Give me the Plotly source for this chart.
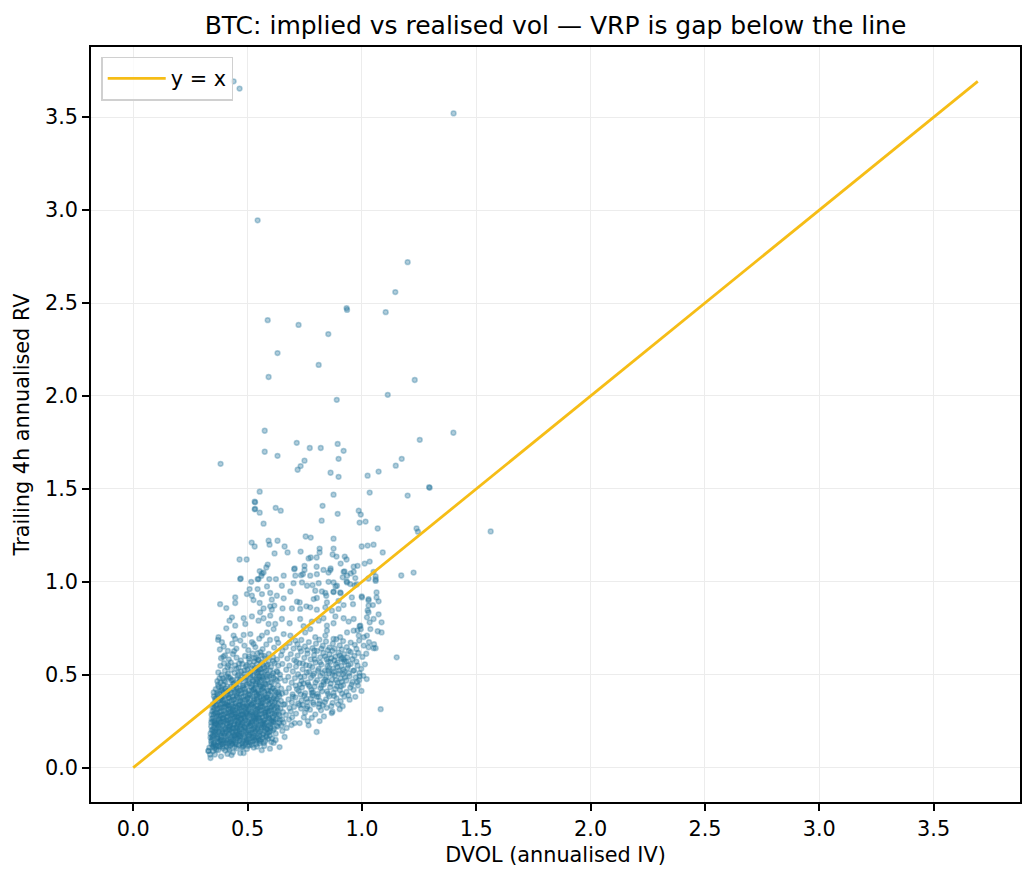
import plotly.graph_objects as go

# ---------------- data (DVOL implied vol, trailing 4h realised vol) ----------------
main_cluster = [
    (0.338,0.052),(0.357,0.071),(0.384,0.061),(0.349,0.088),(0.412,0.074),(0.436,0.083),(0.372,0.094),(0.468,0.079),(0.329,0.090),(0.402,0.093),
    (0.333,0.108),(0.351,0.117),(0.364,0.098),(0.381,0.124),(0.393,0.103),(0.407,0.115),(0.421,0.097),(0.434,0.126),(0.452,0.104),(0.463,0.121),(0.479,0.112),(0.497,0.101),(0.518,0.122),(0.541,0.113),(0.372,0.118),(0.414,0.129),(0.342,0.127),(0.562,0.094),(0.356,0.104),(0.443,0.111),(0.489,0.128),(0.391,0.113),
    (0.341,0.142),(0.353,0.133),(0.366,0.155),(0.374,0.137),(0.386,0.163),(0.395,0.146),(0.404,0.134),(0.415,0.152),(0.426,0.141),(0.433,0.166),(0.447,0.136),(0.455,0.158),(0.468,0.145),(0.476,0.132),(0.487,0.161),(0.494,0.147),(0.506,0.153),(0.513,0.135),(0.524,0.164),(0.536,0.143),(0.547,0.157),(0.553,0.131),(0.566,0.162),(0.578,0.144),(0.589,0.155),(0.604,0.138),(0.359,0.121),(0.441,0.168),(0.348,0.159),(0.381,0.147),(0.462,0.169),(0.529,0.149),(0.421,0.137),(0.501,0.139),
    (0.338,0.183),(0.349,0.172),(0.357,0.196),(0.368,0.178),(0.377,0.205),(0.389,0.186),(0.396,0.171),(0.408,0.193),(0.417,0.179),(0.425,0.208),(0.436,0.188),(0.444,0.174),(0.456,0.199),(0.463,0.183),(0.474,0.207),(0.483,0.176),(0.495,0.192),(0.503,0.181),(0.516,0.203),(0.527,0.173),(0.534,0.195),(0.545,0.184),(0.558,0.206),(0.567,0.177),(0.576,0.197),(0.588,0.186),(0.597,0.172),(0.611,0.201),(0.623,0.183),(0.363,0.188),(0.401,0.207),(0.431,0.195),(0.489,0.203),(0.521,0.188),(0.553,0.171),(0.584,0.209),(0.347,0.204),(0.468,0.171),
    (0.341,0.223),(0.352,0.214),(0.361,0.238),(0.372,0.219),(0.383,0.245),(0.391,0.227),(0.403,0.212),(0.411,0.236),(0.422,0.221),(0.429,0.248),(0.441,0.229),(0.449,0.215),(0.458,0.242),(0.467,0.224),(0.478,0.247),(0.486,0.217),(0.498,0.234),(0.507,0.222),(0.519,0.246),(0.528,0.213),(0.539,0.237),(0.548,0.226),(0.559,0.249),(0.571,0.218),(0.579,0.239),(0.592,0.227),(0.601,0.214),(0.614,0.243),(0.627,0.226),(0.638,0.241),(0.356,0.243),(0.395,0.249),(0.437,0.211),(0.472,0.236),(0.513,0.229),(0.544,0.211),(0.566,0.233),(0.603,0.236),
    (0.343,0.262),(0.354,0.253),(0.364,0.277),(0.375,0.259),(0.386,0.284),(0.394,0.266),(0.406,0.253),(0.414,0.275),(0.424,0.261),(0.433,0.287),(0.444,0.268),(0.452,0.255),(0.461,0.281),(0.471,0.263),(0.481,0.288),(0.489,0.257),(0.501,0.273),(0.511,0.261),(0.522,0.285),(0.531,0.252),(0.542,0.276),(0.551,0.265),(0.563,0.289),(0.573,0.256),(0.582,0.278),(0.594,0.267),(0.605,0.254),(0.617,0.283),(0.629,0.265),(0.641,0.279),(0.652,0.259),(0.369,0.289),(0.419,0.289),(0.457,0.271),(0.497,0.289),(0.537,0.264),(0.576,0.286),(0.611,0.271),
    (0.346,0.302),(0.357,0.293),(0.367,0.317),(0.378,0.299),(0.388,0.324),(0.397,0.306),(0.408,0.293),(0.417,0.315),(0.427,0.301),(0.436,0.327),(0.446,0.308),(0.455,0.295),(0.465,0.321),(0.474,0.303),(0.484,0.328),(0.493,0.297),(0.504,0.313),(0.514,0.301),(0.525,0.325),(0.534,0.292),(0.545,0.316),(0.554,0.305),(0.566,0.329),(0.575,0.296),(0.585,0.318),(0.597,0.307),(0.608,0.294),(0.619,0.323),(0.632,0.305),(0.644,0.319),(0.655,0.299),(0.403,0.328),(0.448,0.331),(0.501,0.329),(0.559,0.311),(0.589,0.301),(0.627,0.331),
    (0.349,0.342),(0.361,0.333),(0.371,0.357),(0.381,0.339),(0.391,0.364),(0.401,0.346),(0.411,0.333),(0.421,0.355),(0.431,0.341),(0.439,0.367),(0.449,0.348),(0.459,0.335),(0.469,0.361),(0.478,0.343),(0.488,0.368),(0.497,0.337),(0.507,0.353),(0.517,0.341),(0.528,0.365),(0.537,0.332),(0.548,0.356),(0.557,0.345),(0.569,0.369),(0.578,0.336),(0.588,0.358),(0.599,0.347),(0.611,0.334),(0.622,0.363),(0.635,0.345),(0.646,0.359),(0.658,0.339),(0.527,0.347),(0.563,0.361),(0.596,0.368),
    (0.353,0.384),(0.364,0.373),(0.376,0.397),(0.386,0.379),(0.395,0.404),(0.405,0.386),(0.416,0.373),(0.425,0.395),(0.435,0.381),(0.444,0.407),(0.453,0.388),(0.463,0.375),(0.473,0.401),(0.482,0.383),(0.492,0.408),(0.501,0.377),(0.511,0.393),(0.521,0.381),(0.531,0.405),(0.541,0.372),(0.551,0.396),(0.561,0.385),(0.572,0.409),(0.582,0.376),(0.592,0.398),(0.603,0.387),(0.614,0.374),(0.626,0.403),(0.639,0.385),(0.651,0.399),(0.541,0.391),(0.571,0.379),
    (0.361,0.422),(0.373,0.434),(0.384,0.417),(0.394,0.445),(0.404,0.426),(0.415,0.413),(0.428,0.438),(0.439,0.421),(0.449,0.446),(0.459,0.428),(0.468,0.415),(0.478,0.441),(0.487,0.423),(0.497,0.448),(0.506,0.417),(0.516,0.433),(0.526,0.421),(0.536,0.445),(0.546,0.412),(0.556,0.436),(0.566,0.425),(0.577,0.449),(0.587,0.416),(0.598,0.438),(0.609,0.427),(0.621,0.414),(0.633,0.443),(0.647,0.425),(0.551,0.447),(0.521,0.446),
    (0.368,0.465),(0.381,0.457),(0.392,0.481),(0.403,0.462),(0.417,0.487),(0.429,0.469),(0.442,0.455),(0.455,0.478),(0.466,0.463),(0.479,0.489),(0.491,0.471),(0.503,0.458),(0.514,0.484),(0.524,0.466),(0.535,0.452),(0.545,0.476),(0.555,0.463),(0.566,0.487),(0.576,0.455),(0.588,0.473),(0.601,0.461),(0.614,0.485),(0.628,0.468),(0.643,0.481),(0.541,0.489),(0.562,0.471),
    (0.372,0.512),(0.386,0.498),(0.401,0.522),(0.414,0.505),(0.428,0.527),(0.443,0.509),(0.457,0.495),(0.472,0.518),(0.486,0.503),(0.499,0.528),(0.512,0.511),(0.523,0.496),(0.534,0.521),(0.544,0.506),(0.553,0.529),(0.563,0.493),(0.574,0.515),(0.586,0.502),(0.599,0.524),(0.612,0.508),(0.627,0.519),(0.642,0.501),(0.548,0.517),
    (0.381,0.548),(0.397,0.562),(0.412,0.541),(0.427,0.566),(0.445,0.551),(0.461,0.537),(0.477,0.558),(0.493,0.544),(0.508,0.567),(0.521,0.549),(0.532,0.535),(0.541,0.558),(0.551,0.543),(0.562,0.566),(0.574,0.538),(0.588,0.555),(0.603,0.542),(0.618,0.563),(0.634,0.549),(0.652,0.558),
    (0.384,0.589),(0.401,0.604),(0.418,0.583),(0.436,0.611),(0.452,0.592),(0.471,0.577),(0.489,0.601),(0.506,0.586),(0.522,0.614),(0.537,0.591),(0.549,0.579),(0.561,0.606),(0.577,0.588),(0.593,0.612),(0.611,0.596),(0.629,0.582),(0.647,0.605),
    (0.379,0.636),(0.396,0.652),(0.414,0.628),(0.433,0.667),(0.451,0.641),(0.468,0.684),(0.486,0.657),(0.503,0.632),(0.519,0.676),(0.534,0.649),(0.551,0.694),(0.566,0.638),(0.582,0.663),(0.598,0.687),(0.616,0.646),(0.634,0.672),(0.652,0.629),(0.371,0.688),
]

dense_core = [
    (0.352,0.127),(0.368,0.141),(0.379,0.113),(0.396,0.132),(0.409,0.146),(0.423,0.118),(0.438,0.139),(0.451,0.125),(0.466,0.148),(0.481,0.119),(0.493,0.136),(0.509,0.124),(0.523,0.142),(0.538,0.128),(0.551,0.146),(0.571,0.133),(0.384,0.149),(0.431,0.129),
    (0.345,0.168),(0.358,0.181),(0.371,0.157),(0.383,0.174),(0.392,0.189),(0.406,0.162),(0.419,0.185),(0.428,0.153),(0.439,0.177),(0.452,0.189),(0.461,0.159),(0.473,0.184),(0.485,0.168),(0.498,0.151),(0.509,0.176),(0.519,0.161),(0.531,0.187),(0.543,0.166),(0.556,0.152),(0.569,0.182),(0.581,0.165),(0.594,0.191),(0.607,0.158),(0.374,0.192),(0.447,0.163),
    (0.343,0.201),(0.355,0.228),(0.366,0.209),(0.379,0.232),(0.389,0.197),(0.398,0.219),(0.413,0.205),(0.424,0.229),(0.433,0.213),(0.447,0.198),(0.453,0.226),(0.465,0.208),(0.477,0.231),(0.491,0.213),(0.504,0.199),(0.512,0.227),(0.525,0.206),(0.536,0.224),(0.549,0.197),(0.561,0.218),(0.573,0.229),(0.586,0.204),(0.598,0.222),(0.616,0.209),(0.632,0.221),(0.419,0.218),(0.483,0.195),
    (0.347,0.251),(0.359,0.236),(0.371,0.262),(0.381,0.244),(0.392,0.268),(0.405,0.239),(0.416,0.257),(0.427,0.241),(0.436,0.265),(0.446,0.252),(0.457,0.233),(0.469,0.259),(0.479,0.241),(0.491,0.266),(0.502,0.249),(0.514,0.238),(0.526,0.263),(0.537,0.246),(0.549,0.269),(0.559,0.234),(0.571,0.256),(0.583,0.243),(0.596,0.264),(0.608,0.247),(0.621,0.259),(0.463,0.271),(0.521,0.253),
    (0.351,0.285),(0.362,0.298),(0.374,0.276),(0.384,0.304),(0.396,0.286),(0.409,0.272),(0.418,0.301),(0.429,0.281),(0.441,0.297),(0.452,0.276),(0.463,0.305),(0.476,0.287),(0.486,0.274),(0.497,0.302),(0.508,0.283),(0.519,0.296),(0.531,0.278),(0.542,0.303),(0.553,0.286),(0.565,0.271),(0.578,0.298),(0.591,0.282),(0.603,0.309),(0.617,0.291),(0.636,0.288),(0.437,0.309),
    (0.354,0.323),(0.366,0.341),(0.377,0.318),(0.389,0.347),(0.399,0.326),(0.412,0.352),(0.423,0.331),(0.434,0.314),(0.445,0.343),(0.456,0.322),(0.467,0.355),(0.478,0.329),(0.491,0.317),(0.502,0.346),(0.512,0.325),(0.523,0.351),(0.533,0.318),(0.544,0.337),(0.556,0.324),(0.567,0.349),(0.579,0.319),(0.593,0.341),(0.606,0.327),(0.619,0.352),(0.631,0.321),
    (0.358,0.371),(0.369,0.392),(0.382,0.364),(0.393,0.386),(0.407,0.411),(0.418,0.378),(0.429,0.403),(0.442,0.368),(0.451,0.397),(0.464,0.415),(0.475,0.379),(0.487,0.402),(0.496,0.365),(0.508,0.389),(0.519,0.414),(0.529,0.373),(0.539,0.401),(0.552,0.381),(0.563,0.419),(0.576,0.393),(0.589,0.366),(0.601,0.412),(0.617,0.386),(0.633,0.407),
    (0.371,0.447),(0.386,0.429),(0.398,0.468),(0.411,0.437),(0.424,0.482),(0.437,0.451),(0.451,0.432),(0.468,0.474),(0.483,0.441),(0.496,0.487),(0.509,0.452),(0.521,0.473),(0.532,0.428),(0.543,0.462),(0.551,0.491),(0.558,0.438),(0.569,0.481),(0.581,0.447),(0.594,0.493),(0.606,0.456),(0.622,0.476),
    (0.517,0.536),(0.529,0.571),(0.539,0.512),(0.546,0.582),(0.558,0.531),(0.567,0.554),(0.581,0.523),(0.592,0.574),(0.506,0.598),(0.544,0.616),(0.573,0.602),(0.486,0.523),(0.463,0.561),
]

core_extra = [
    (0.362,0.112),(0.389,0.128),(0.417,0.106),(0.446,0.131),(0.474,0.109),(0.503,0.117),(0.527,0.108),
    (0.344,0.151),(0.369,0.166),(0.391,0.141),(0.412,0.171),(0.437,0.152),(0.459,0.177),(0.481,0.143),(0.506,0.168),(0.532,0.159),(0.557,0.141),(0.583,0.171),
    (0.351,0.192),(0.376,0.214),(0.399,0.184),(0.421,0.203),(0.442,0.237),(0.464,0.196),(0.487,0.221),(0.509,0.189),(0.533,0.217),(0.554,0.193),(0.577,0.211),(0.599,0.196),(0.366,0.231),(0.455,0.214),
    (0.349,0.268),(0.373,0.248),(0.396,0.259),(0.418,0.243),(0.439,0.276),(0.461,0.249),(0.484,0.268),(0.505,0.241),(0.527,0.272),(0.548,0.254),(0.569,0.244),(0.591,0.271),(0.613,0.249),(0.381,0.279),(0.471,0.284),(0.539,0.286),
    (0.353,0.311),(0.379,0.326),(0.403,0.297),(0.425,0.318),(0.447,0.289),(0.469,0.314),(0.492,0.327),(0.511,0.292),(0.536,0.309),(0.558,0.332),(0.581,0.307),(0.602,0.322),(0.624,0.297),(0.415,0.337),(0.487,0.301),
    (0.359,0.356),(0.384,0.372),(0.407,0.341),(0.431,0.363),(0.454,0.379),(0.476,0.351),(0.499,0.371),(0.518,0.339),(0.541,0.366),(0.562,0.352),(0.584,0.381),(0.607,0.356),(0.628,0.371),(0.394,0.358),(0.467,0.338),
    (0.366,0.402),(0.389,0.418),(0.413,0.392),(0.436,0.426),(0.458,0.404),(0.481,0.431),(0.503,0.396),(0.526,0.419),(0.548,0.403),(0.569,0.432),(0.591,0.412),(0.613,0.428),(0.637,0.396),
    (0.377,0.481),(0.409,0.493),(0.434,0.472),(0.462,0.505),(0.489,0.482),(0.513,0.502),(0.538,0.476),(0.561,0.511),(0.584,0.488),(0.607,0.497),(0.631,0.514),(0.452,0.533),(0.497,0.553),(0.529,0.589),(0.556,0.622),(0.583,0.547),(0.611,0.573),(0.417,0.552),(0.394,0.597),(0.441,0.627),
    (0.336,0.071),(0.347,0.113),(0.338,0.162),(0.341,0.243),(0.342,0.286),(0.346,0.327),(0.352,0.405),
]

right_lobe = [
    (0.668,0.284),(0.689,0.302),(0.712,0.291),(0.734,0.318),(0.751,0.296),(0.773,0.312),(0.796,0.287),(0.821,0.309),(0.846,0.322),(0.871,0.301),(0.903,0.315),(0.703,0.327),(0.762,0.329),(0.812,0.326),
    (0.663,0.342),(0.679,0.367),(0.694,0.351),(0.709,0.378),(0.721,0.346),(0.736,0.362),(0.748,0.387),(0.761,0.353),(0.777,0.372),(0.789,0.341),(0.802,0.381),(0.816,0.359),(0.829,0.337),(0.843,0.368),(0.858,0.385),(0.872,0.349),(0.889,0.374),(0.907,0.358),(0.923,0.383),(0.946,0.366),(0.971,0.381),(0.741,0.338),(0.784,0.389),
    (0.667,0.405),(0.681,0.428),(0.697,0.394),(0.711,0.441),(0.724,0.413),(0.738,0.432),(0.752,0.401),(0.766,0.446),(0.779,0.419),(0.793,0.436),(0.806,0.397),(0.819,0.427),(0.833,0.448),(0.847,0.411),(0.861,0.433),(0.876,0.402),(0.891,0.439),(0.904,0.417),(0.918,0.444),(0.932,0.408),(0.949,0.431),(0.964,0.419),(0.983,0.442),(0.998,0.413),(0.729,0.447),(0.786,0.405),(0.883,0.424),
    (0.664,0.468),(0.678,0.489),(0.693,0.457),(0.707,0.482),(0.721,0.503),(0.736,0.466),(0.749,0.491),(0.763,0.459),(0.777,0.484),(0.791,0.507),(0.804,0.471),(0.818,0.494),(0.831,0.462),(0.844,0.487),(0.857,0.508),(0.869,0.473),(0.882,0.496),(0.894,0.458),(0.907,0.481),(0.919,0.503),(0.932,0.469),(0.946,0.492),(0.959,0.461),(0.973,0.486),(0.988,0.471),(1.006,0.494),(1.021,0.477),(0.848,0.466),(0.912,0.462),(0.871,0.503),
    (0.669,0.527),(0.683,0.549),(0.698,0.518),(0.712,0.544),(0.727,0.563),(0.741,0.529),(0.756,0.552),(0.769,0.516),(0.783,0.541),(0.797,0.566),(0.811,0.532),(0.823,0.555),(0.837,0.521),(0.849,0.546),(0.862,0.568),(0.874,0.533),(0.887,0.557),(0.899,0.522),(0.911,0.547),(0.924,0.569),(0.937,0.536),(0.951,0.558),(0.966,0.524),(0.981,0.549),(0.997,0.532),(1.013,0.556),(0.856,0.538),(0.893,0.541),(0.918,0.528),(0.941,0.551),
    (0.674,0.587),(0.689,0.611),(0.704,0.579),(0.719,0.603),(0.734,0.626),(0.748,0.591),(0.762,0.614),(0.776,0.582),(0.791,0.606),(0.804,0.628),(0.818,0.594),(0.831,0.617),(0.845,0.584),(0.858,0.609),(0.871,0.629),(0.884,0.597),(0.897,0.619),(0.909,0.586),(0.922,0.611),(0.936,0.593),(0.951,0.622),(0.967,0.601),(0.984,0.617),(1.002,0.596),(1.019,0.613),(0.866,0.589),(0.903,0.604),(0.921,0.581),
    (0.667,0.648),(0.684,0.671),(0.701,0.641),(0.718,0.664),(0.735,0.687),(0.751,0.652),(0.768,0.676),(0.784,0.643),(0.799,0.667),(0.814,0.689),(0.829,0.656),(0.843,0.679),(0.858,0.646),(0.873,0.668),(0.888,0.691),(0.903,0.658),(0.918,0.681),(0.934,0.649),(0.951,0.673),(0.969,0.661),(0.988,0.684),(1.008,0.657),(1.031,0.676),(1.053,0.664),
]

lobe_extra = [
    (0.683,0.321),(0.726,0.337),(0.758,0.318),(0.787,0.351),(0.813,0.343),(0.838,0.352),(0.866,0.331),(0.896,0.341),
    (0.698,0.382),(0.732,0.394),(0.757,0.371),(0.781,0.402),(0.809,0.383),(0.826,0.411),(0.852,0.397),(0.878,0.386),(0.913,0.398),(0.941,0.389),
    (0.716,0.422),(0.745,0.453),(0.771,0.437),(0.797,0.458),(0.823,0.441),(0.839,0.475),(0.864,0.452),(0.887,0.471),(0.908,0.438),(0.926,0.486),(0.955,0.447),(0.979,0.461),
    (0.731,0.489),(0.759,0.512),(0.786,0.497),(0.808,0.521),(0.828,0.508),(0.852,0.521),(0.876,0.517),(0.898,0.506),(0.923,0.516),(0.943,0.508),(0.962,0.521),(0.989,0.509),
    (0.713,0.571),(0.742,0.561),(0.771,0.549),(0.794,0.583),(0.817,0.567),(0.839,0.599),(0.852,0.571),(0.879,0.578),(0.894,0.566),(0.913,0.592),(0.931,0.572),(0.958,0.584),(0.976,0.571),
    (0.728,0.642),(0.761,0.633),(0.792,0.631),(0.823,0.641),(0.851,0.633),(0.881,0.641),(0.912,0.637),(0.943,0.628),(0.976,0.639),
]

low_scatter = [
    (0.662,0.165),(0.640,0.111),(0.614,0.133),(0.483,0.079),(0.430,0.068),(0.329,0.090),(0.706,0.240),(0.728,0.240),(0.763,0.251),(0.767,0.228),
    (0.802,0.192),(0.815,0.251),(0.868,0.294),(0.916,0.331),(0.652,0.198),(0.671,0.214),(0.648,0.227),(0.681,0.259),(0.695,0.271),(0.641,0.256),
    (0.598,0.102),(0.573,0.117),(0.623,0.149),(0.658,0.242),(0.746,0.271),(0.781,0.268),(0.834,0.276),(0.692,0.229),
]

mid_scatter = [
    (0.563,1.045),(0.553,1.058),(0.658,1.033),(0.704,1.068),(0.964,1.054),(0.920,1.054),(0.935,1.033),(0.971,1.020),(0.468,1.015),(0.516,1.000),
    (0.548,1.015),(0.595,1.015),(0.624,1.015),(0.709,1.033),(0.742,1.041),(0.774,1.033),(0.803,1.041),(0.854,1.050),(0.701,0.993),(0.738,0.997),
    (0.760,0.979),(0.784,0.982),(0.811,0.993),(0.825,0.948),(0.854,1.000),(0.891,0.979),(0.935,0.997),(0.949,0.988),(1.029,1.018),(1.051,1.054),
    (0.509,0.961),(0.544,0.961),(0.585,0.975),(0.650,0.979),(0.687,0.948),(0.796,0.952),(0.840,0.940),(0.876,0.947),(0.905,0.943),(0.519,0.925),
    (0.526,0.902),(0.563,0.934),(0.599,0.940),(0.606,0.904),(0.617,0.872),(0.628,0.925),(0.658,0.911),(0.716,0.893),(0.728,0.889),(0.757,0.868),
    (0.789,0.907),(0.803,0.913),(0.844,0.925),(0.847,0.889),(0.898,0.898),(0.956,0.916),(1.000,0.916),(1.029,0.907),(0.380,0.880),(0.407,0.859),
    (0.446,0.916),(0.446,0.886),(0.497,0.934),(0.553,0.886),(0.570,0.857),(0.555,0.836),(0.599,0.868),(0.606,0.850),(0.653,0.857),(0.694,0.857),
    (0.730,0.854),(0.774,0.863),(0.803,0.850),(0.840,0.863),(0.869,0.845),(0.898,0.854),(0.920,0.875),(0.961,0.880),(1.029,0.872),(1.048,0.875),
    (0.432,0.809),(0.421,0.791),(0.407,0.750),(0.446,0.764),(0.483,0.804),(0.490,0.773),(0.519,0.814),(0.548,0.791),(0.570,0.804),(0.599,0.818),
    (0.592,0.773),(0.621,0.773),(0.650,0.800),(0.684,0.777),(0.730,0.800),(0.745,0.761),(0.781,0.786),(0.811,0.791),(0.832,0.804),(0.847,0.764),
    (0.876,0.777),(0.884,0.814),(0.920,0.804),(0.942,0.786),(0.964,0.800),(0.993,0.764),(1.022,0.809),(1.051,0.800),(0.373,0.702),(0.388,0.675),
    (0.439,0.711),(0.446,0.693),(0.483,0.714),(0.512,0.719),(0.526,0.666),(0.563,0.711),(0.585,0.728),(0.614,0.746),(0.628,0.693),(0.658,0.719),
    (0.687,0.711),(0.709,0.684),(0.752,0.728),(0.774,0.746),(0.796,0.702),(0.840,0.711),(0.847,0.737),(0.876,0.693),(0.905,0.702),(0.935,0.728),
    (0.964,0.737),(0.986,0.711),(1.022,0.711),(1.037,0.746),
    (0.924,1.056),(0.951,1.045),(0.916,1.024),(0.933,1.002),(1.060,1.029),(1.060,1.013),(1.060,1.005),(1.172,1.034),(1.226,1.050),(0.876,0.997),
    (0.885,0.975),(0.968,0.981),(0.977,0.986),(0.876,0.945),(0.907,0.939),(0.999,0.922),(1.064,0.943),(1.064,0.916),(1.073,0.895),(1.029,0.900),
    (1.025,0.846),(1.029,0.836),(1.073,0.825),(1.034,0.782),(1.086,0.782),(1.069,0.734),(1.086,0.728),(0.990,0.761),(0.995,0.745),(0.981,0.739),
    (1.008,0.702),(1.029,0.648),(1.051,0.643),(1.060,0.643),(1.152,0.594),(0.990,0.492),(1.082,0.315),
    (0.470,1.018),(0.544,1.014),(0.560,1.032),(0.570,1.050),(0.582,1.077),(0.734,1.036),(0.749,1.064),(0.832,1.064),(0.862,1.063),
]

high_outliers = [
    (0.439,3.693),(0.465,3.654),(1.401,3.520),(0.544,2.945),(1.200,2.720),(1.146,2.559),(0.933,2.473),(0.935,2.463),(1.104,2.451),(0.588,2.408),
    (0.723,2.382),(0.853,2.333),(0.631,2.231),(0.811,2.167),(0.592,2.102),(1.231,2.086),(1.113,2.006),(0.890,1.979),(0.575,1.813),(1.400,1.802),
    (1.253,1.764),(0.715,1.748),(0.772,1.720),(0.820,1.720),(0.894,1.742),(0.920,1.705),(0.575,1.700),(0.631,1.678),(0.898,1.662),(0.749,1.652),
    (0.732,1.623),(0.719,1.603),(0.382,1.635),(1.174,1.662),(1.148,1.625),(0.863,1.587),(0.898,1.565),(1.025,1.571),(1.073,1.593),(1.294,1.510),
    (1.296,1.506),(1.200,1.464),(1.034,1.480),(0.876,1.469),(0.553,1.485),(0.531,1.431),(0.533,1.428),(0.531,1.390),(0.533,1.393),(0.553,1.372),
    (0.570,1.313),(0.623,1.398),(0.645,1.383),(0.828,1.409),(0.894,1.366),(0.824,1.329),(0.986,1.383),(0.995,1.362),(0.990,1.319),(1.016,1.324),
    (1.069,1.287),(1.239,1.287),(1.245,1.270),(1.563,1.271),(0.518,1.211),(0.531,1.190),(0.592,1.221),(0.596,1.200),(0.631,1.221),(0.662,1.190),
    (0.675,1.158),(0.618,1.153),(0.754,1.244),(0.776,1.238),(0.732,1.163),(0.815,1.179),(0.815,1.158),(0.876,1.232),(0.876,1.179),(0.872,1.147),
    (0.889,1.136),(0.767,1.126),(0.776,1.131),(0.802,1.131),(0.925,1.136),(0.933,1.120),(0.999,1.190),(1.025,1.195),(1.051,1.200),(1.091,1.158),
    (0.465,1.120),(0.496,1.120),(0.588,1.093),(1.034,1.109),(1.012,1.098),(0.981,1.086),(0.964,1.081),(0.907,1.098),(0.749,1.086),(0.706,1.072),
    (0.802,1.081),(0.863,1.072),
]

tick_values = [0.0, 0.5, 1.0, 1.5, 2.0, 2.5, 3.0, 3.5]
tick_labels = ["0.0", "0.5", "1.0", "1.5", "2.0", "2.5", "3.0", "3.5"]

title_text = "BTC: implied vs realised vol \u2014 VRP is gap below the line"
x_label = "DVOL (annualised IV)"
y_label = "Trailing 4h annualised RV"
line_name = "y = x"

# ---------------- figure ----------------
all_pts = (main_cluster + dense_core + core_extra + right_lobe + lobe_extra
           + low_scatter + mid_scatter + high_outliers)
iv = [p[0] for p in all_pts]
rv = [p[1] for p in all_pts]

lim = max(max(iv), max(rv))
pad = 0.05 * lim
axis_range = [-pad, lim + pad]

pt_rgba = "rgba(35,116,156,0.36)"
FONT = "DejaVu Sans"

fig = go.Figure()
fig.add_trace(go.Scatter(
    x=iv, y=rv, mode="markers", showlegend=False, hoverinfo="skip",
    marker=dict(size=4.8, color=pt_rgba, line=dict(color=pt_rgba, width=1.5)),
))
fig.add_trace(go.Scatter(
    x=[0, lim], y=[0, lim], mode="lines", name=line_name,
    line=dict(color="#f6bd16", width=2.8),
))

axis_common = dict(
    range=axis_range, tickmode="array", tickvals=tick_values, ticktext=tick_labels,
    showgrid=True, gridcolor="#ececec", gridwidth=1.3, zeroline=False,
    showline=True, linecolor="#000000", linewidth=1.6, mirror=True,
    ticks="outside", ticklen=7, tickwidth=1.6, tickcolor="#000000",
    tickfont=dict(family=FONT, size=20.8, color="#000000"),
)

fig.update_layout(
    width=1034, height=881,
    margin=dict(l=91, r=12, t=47, b=79),
    paper_bgcolor="white", plot_bgcolor="white",
    font=dict(family=FONT, color="#000000"),
    title=dict(text=title_text, x=0.5, xref="paper", xanchor="center",
               y=1 - 25.5 / 881, yref="container", yanchor="middle",
               font=dict(family=FONT, size=25, color="#000000")),
    xaxis=dict(axis_common, title=dict(text=x_label, standoff=8,
                                       font=dict(family=FONT, size=20.8))),
    yaxis=dict(axis_common, title=dict(text=y_label, standoff=10,
                                       font=dict(family=FONT, size=20.8))),
    legend=dict(x=0.011, y=0.987, xanchor="left", yanchor="top",
                itemwidth=58, tracegroupgap=0,
                bgcolor="rgba(255,255,255,0.8)", bordercolor="#d0d0d0", borderwidth=1.5,
                font=dict(family=FONT, size=20.8, color="#000000")),
)

fig.write_html("out.html")
